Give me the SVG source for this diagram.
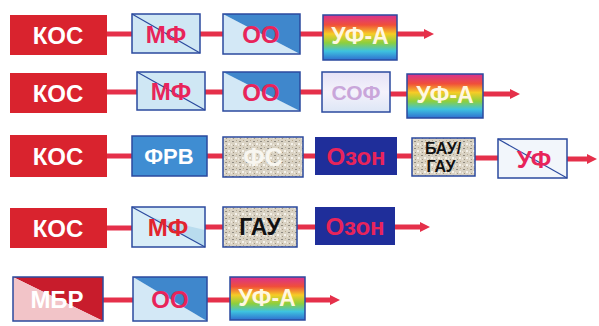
<svg xmlns="http://www.w3.org/2000/svg" width="599" height="326" viewBox="0 0 599 326">
<style>
.t{font-family:"Liberation Sans",Arial,sans-serif;font-weight:bold;text-anchor:middle;dominant-baseline:central}
.w{fill:#ffffff}
.p{fill:#e8245a}
.k{fill:#111111}
.bd{fill:none;stroke:#2b4a9e;stroke-width:1.5}
.kos{fill:#d9232e}
.diag{stroke:#2b4a9e;stroke-width:1.2}
.c{stroke:#e5304a;stroke-width:5;fill:none}
.ah{fill:#e5304a}
</style>
<defs>
<linearGradient id="rb" x1="0" y1="0" x2="0" y2="1">
<stop offset="0" stop-color="#d83290"/>
<stop offset="0.22" stop-color="#f04e3a"/>
<stop offset="0.42" stop-color="#f6cc26"/>
<stop offset="0.62" stop-color="#8ccf3e"/>
<stop offset="0.8" stop-color="#3ec3df"/>
<stop offset="1" stop-color="#2f6fd0"/>
</linearGradient>
<linearGradient id="sof" x1="0" y1="0" x2="0" y2="1">
<stop offset="0" stop-color="#e6e2f6"/>
<stop offset="0.5" stop-color="#f4f2fb"/>
<stop offset="1" stop-color="#dde6f6"/>
</linearGradient>
<pattern id="sp" width="7" height="7" patternUnits="userSpaceOnUse">
<rect width="7" height="7" fill="#d9d2c3"/>
<rect x="1" y="1" width="2" height="1" fill="#8f8a80"/>
<rect x="4" y="3" width="2" height="2" fill="#f4f1ea"/>
<rect x="2" y="5" width="1" height="1" fill="#a49884"/>
<rect x="5" y="0" width="1" height="1" fill="#b7a98f"/>
<rect x="0" y="4" width="1" height="2" fill="#ece6da"/>
</pattern>
</defs>

<g id="connectors">
<path class="c" d="M107 34H132M200 34H223M300 34H323M397 34H426"/>
<polygon class="ah" points="424,29 434,34 424,39"/>
<path class="c" d="M107 92H137M205 92H223M300 92H322M390 94H407M483 94H512"/>
<polygon class="ah" points="510,89 520,94 510,99"/>
<path class="c" d="M107 156H132M207 156H223M303 156H315M397 156H412M475 158H498M567 159H589"/>
<polygon class="ah" points="587,154 597,159 587,164"/>
<path class="c" d="M107 228H132M205 227H223M297 227H315M395 227H422"/>
<polygon class="ah" points="420,222 430,227 420,232"/>
<path class="c" d="M103 300H133M207 300H230M305 300H332"/>
<polygon class="ah" points="330,295 340,300 330,305"/>
</g>

<!-- Row 1 -->
<g id="r1-kos"><rect class="kos" x="10" y="15" width="97" height="40"/><text class="t w" x="58" y="35" font-size="24">КОС</text></g>
<g id="r1-mf"><rect x="132" y="14" width="68" height="39" fill="#cfe7f4"/><line class="diag" x1="132" y1="14" x2="200" y2="53"/><rect class="bd" x="132" y="14" width="68" height="39"/><text class="t p" x="166" y="34" font-size="24">МФ</text></g>
<g id="r1-oo"><polygon points="223,54 223,14 300,54" fill="#d3e8f6"/><polygon points="223,14 300,14 300,54" fill="#3f87cc"/><rect class="bd" x="223" y="14" width="77" height="40"/><text class="t p" x="261" y="34" font-size="24">ОО</text></g>
<g id="r1-ufa"><rect x="323" y="15" width="74" height="45" fill="url(#rb)"/><rect class="bd" x="323" y="15" width="74" height="45"/><text class="t" x="360" y="36" font-size="23" fill="#fff7e0">УФ-А</text></g>

<!-- Row 2 -->
<g id="r2-kos"><rect class="kos" x="10" y="73" width="97" height="40"/><text class="t w" x="58" y="93" font-size="24">КОС</text></g>
<g id="r2-mf"><rect x="137" y="72" width="68" height="38" fill="#cfe7f4"/><line class="diag" x1="137" y1="72" x2="205" y2="110"/><rect class="bd" x="137" y="72" width="68" height="38"/><text class="t p" x="171" y="91" font-size="24">МФ</text></g>
<g id="r2-oo"><polygon points="223,111 223,72 300,111" fill="#d3e8f6"/><polygon points="223,72 300,72 300,111" fill="#3f87cc"/><rect class="bd" x="223" y="72" width="77" height="39"/><text class="t p" x="261" y="92" font-size="24">ОО</text></g>
<g id="r2-sof"><rect x="322" y="72" width="68" height="40" fill="url(#sof)"/><rect class="bd" x="322" y="72" width="68" height="40"/><text class="t" x="356" y="92" font-size="21" fill="#c9a6da">СОФ</text></g>
<g id="r2-ufa"><rect x="407" y="74" width="76" height="44" fill="url(#rb)"/><rect class="bd" x="407" y="74" width="76" height="44"/><text class="t" x="445" y="95" font-size="23" fill="#fff7e0">УФ-А</text></g>

<!-- Row 3 -->
<g id="r3-kos"><rect class="kos" x="10" y="135" width="97" height="42"/><text class="t w" x="58" y="156" font-size="24">КОС</text></g>
<g id="r3-frv"><rect x="132" y="136" width="75" height="40" fill="#3f8dd2"/><rect class="bd" x="132" y="136" width="75" height="40"/><text class="t w" x="169" y="156" font-size="22">ФРВ</text></g>
<g id="r3-fs"><rect x="223" y="137" width="80" height="40" fill="url(#sp)"/><rect class="bd" x="223" y="137" width="80" height="40"/><text class="t" x="263" y="157" font-size="25" fill="#f8f6f0">ФС</text></g>
<g id="r3-ozon"><rect x="315" y="137" width="82" height="38" fill="#1f2e9a"/><text class="t p" x="356" y="156" font-size="24">Озон</text></g>
<g id="r3-bau"><rect x="412" y="138" width="63" height="38" fill="url(#sp)"/><rect class="bd" x="412" y="138" width="63" height="38"/><text class="t k" x="443" y="148" font-size="16">БАУ/</text><text class="t k" x="441" y="166" font-size="16">ГАУ</text></g>
<g id="r3-uf"><rect x="498" y="139" width="69" height="39" fill="#f2f6fb"/><line class="diag" x1="498" y1="139" x2="567" y2="178"/><rect class="bd" x="498" y="139" width="69" height="39"/><text class="t p" x="534" y="159" font-size="24">УФ</text></g>

<!-- Row 4 -->
<g id="r4-kos"><rect class="kos" x="10" y="208" width="97" height="40"/><text class="t w" x="58" y="228" font-size="24">КОС</text></g>
<g id="r4-mf"><polygon points="132,207 205,207 205,247" fill="#d8edf7"/><polygon points="132,207 205,247 132,247" fill="#d8edf7"/><polygon points="150,217 205,247 205,230" fill="#b9dcee"/><line class="diag" x1="132" y1="207" x2="205" y2="247"/><rect class="bd" x="132" y="207" width="73" height="40"/><text class="t" x="168" y="227" font-size="24" fill="#e2242e">МФ</text></g>
<g id="r4-gau"><rect x="223" y="207" width="74" height="40" fill="url(#sp)"/><rect class="bd" x="223" y="207" width="74" height="40"/><text class="t k" x="260" y="227" font-size="23">ГАУ</text></g>
<g id="r4-ozon"><rect x="315" y="207" width="80" height="38" fill="#1f2e9a"/><text class="t p" x="355" y="226" font-size="24">Озон</text></g>

<!-- Row 5 -->
<g id="r5-mbr"><polygon points="13,277 103,277 103,321" fill="#c81c2c"/><polygon points="13,277 103,321 13,321" fill="#f2c4c8"/><rect class="bd" x="13" y="277" width="90" height="44"/><text class="t w" x="57" y="299" font-size="24">МБР</text></g>
<g id="r5-oo"><polygon points="133,321 133,277 207,321" fill="#d3e8f6"/><polygon points="133,277 207,277 207,321" fill="#3f87cc"/><rect class="bd" x="133" y="277" width="74" height="44"/><text class="t p" x="170" y="299" font-size="24">ОО</text></g>
<g id="r5-ufa"><rect x="230" y="277" width="75" height="43" fill="url(#rb)"/><rect class="bd" x="230" y="277" width="75" height="43"/><text class="t" x="267" y="298" font-size="23" fill="#fff7e0">УФ-А</text></g>
</svg>
